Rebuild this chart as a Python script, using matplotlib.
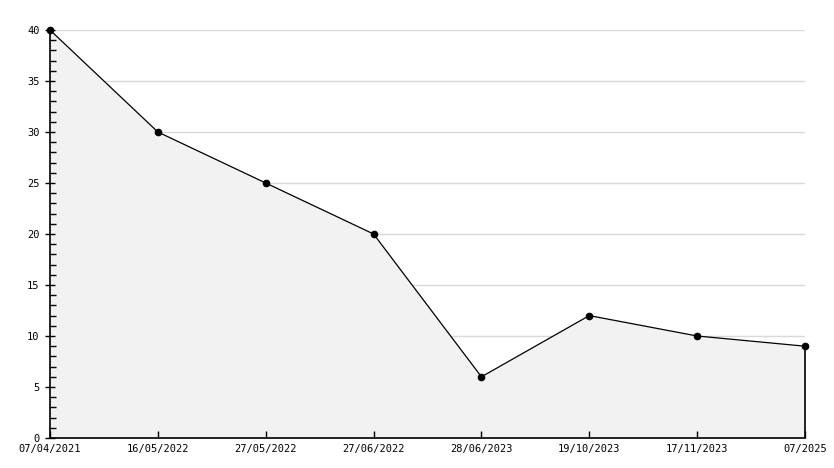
import matplotlib
matplotlib.use("Agg")
import matplotlib.pyplot as plt
import numpy as np
from matplotlib.ticker import MultipleLocator

# values
dates = ["07/04/2021", "16/05/2022", "27/05/2022", "27/06/2022",
         "28/06/2023", "19/10/2023", "17/11/2023", "07/2025"]
values = [40, 30, 25, 20, 6, 12, 10, 9]

plt.rcParams["font.family"] = "DejaVu Sans Mono"

fig = plt.figure(figsize=(8.34, 4.68), dpi=100)
ax = fig.add_axes([50 / 834, 30 / 468, 755 / 834, 408 / 468])

x = np.arange(len(dates))
# horizontal grid drawn by hand so the axis ticks can sit on top of the fill
for yv in range(5, 41, 5):
    ax.axhline(yv, color="#d9d9d9", lw=1, zorder=0)
ax.fill_between(x, values, 0, color="#f2f2f2", lw=0, zorder=1)
ax.plot(x, values, color="black", lw=0.9, marker="o", ms=4.5, zorder=3,
        clip_on=False)
ax.vlines(x[-1], 0, values[-1], color="black", lw=1.2, zorder=2, clip_on=False)

ax.set_xlim(x[0], x[-1])
ax.set_ylim(0, 40)
ax.set_xticks(x)
ax.set_xticklabels(dates)
ax.yaxis.set_major_locator(MultipleLocator(5))
ax.yaxis.set_minor_locator(MultipleLocator(1))
ax.set_axisbelow(False)

ax.tick_params(axis="x", direction="in", length=5, width=1, labelsize=7.5, pad=4)
ax.tick_params(axis="y", which="major", direction="inout", length=7, width=1, labelsize=7.5, pad=4)
ax.tick_params(axis="y", which="minor", direction="in", length=4, width=1)

for s in ("top", "right"):
    ax.spines[s].set_visible(False)
for s in ("left", "bottom"):
    ax.spines[s].set_linewidth(1.2)

fig.savefig("out.png", dpi=100)
